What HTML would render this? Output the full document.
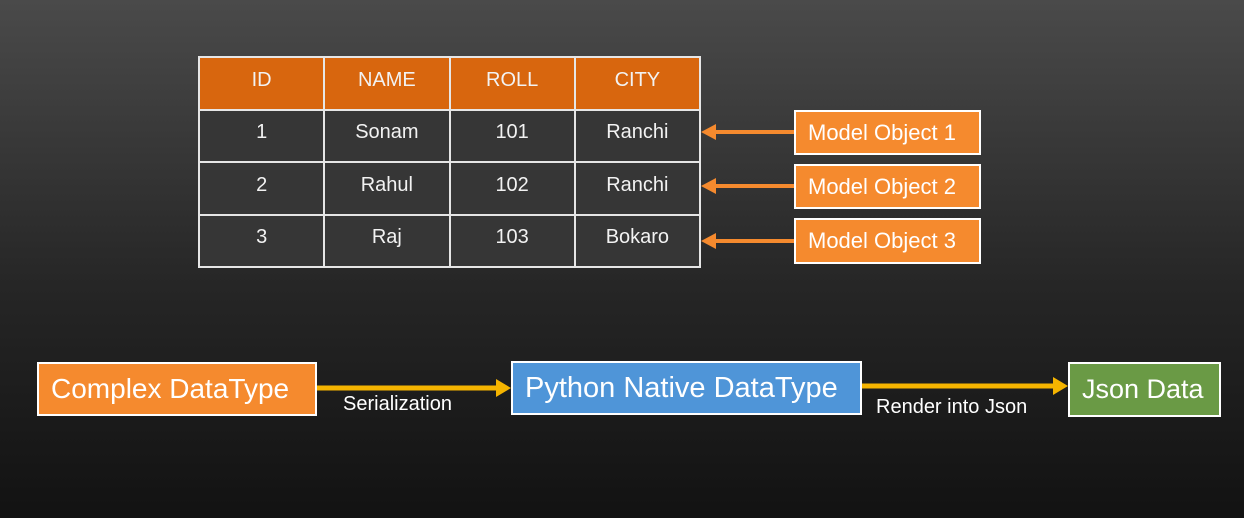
<!DOCTYPE html>
<html><head><style>
body{margin:0;width:1244px;height:518px;overflow:hidden;background:linear-gradient(#4a4a4a,#262626 55%,#121212);font-family:"Liberation Sans",sans-serif;color:#fff;position:relative}
.a{position:absolute;box-sizing:border-box}
table{position:absolute;left:198px;top:56px;width:503px;height:212px;border-collapse:collapse;table-layout:fixed}
td{border:2px solid #e6e6e6;text-align:center;font-size:20px;color:#f2f2f2;background:#363636;padding:0 0 6px 0}
tr.h td{background:#d8660e}
.m{border:2px solid #fff;background:#f58a2e;font-size:22px;display:flex;align-items:center;padding-left:12px}
.b{border:2px solid #fff;display:flex;align-items:center;padding-left:12px}
</style></head><body>
<table>
<tr class="h"><td>ID</td><td>NAME</td><td>ROLL</td><td>CITY</td></tr>
<tr><td>1</td><td>Sonam</td><td>101</td><td>Ranchi</td></tr>
<tr><td>2</td><td>Rahul</td><td>102</td><td>Ranchi</td></tr>
<tr><td>3</td><td>Raj</td><td>103</td><td>Bokaro</td></tr>
</table>
<div class="a m" style="left:794px;top:110px;width:187px;height:45px">Model Object 1</div>
<div class="a m" style="left:794px;top:164px;width:187px;height:45px">Model Object 2</div>
<div class="a m" style="left:794px;top:218px;width:187px;height:46px">Model Object 3</div>
<svg class="a" style="left:0;top:0" width="1244" height="518">
<g stroke="#f58a2e" stroke-width="4" fill="#f58a2e">
<line x1="794" y1="132" x2="712" y2="132"/><polygon points="701,132 716,124 716,140" stroke="none"/>
<line x1="794" y1="186" x2="712" y2="186"/><polygon points="701,186 716,178 716,194" stroke="none"/>
<line x1="794" y1="241" x2="712" y2="241"/><polygon points="701,241 716,233 716,249" stroke="none"/>
</g>
<g stroke="#f5b400" stroke-width="5" fill="#f5b400">
<line x1="317" y1="388" x2="498" y2="388"/><polygon points="511,388 496,379 496,397" stroke="none"/>
<line x1="862" y1="386" x2="1055" y2="386"/><polygon points="1068,386 1053,377 1053,395" stroke="none"/>
</g>
</svg>
<div class="a b" style="left:37px;top:362px;width:280px;height:54px;background:#f58a2e;font-size:28px">Complex DataType</div>
<div class="a b" style="left:511px;top:361px;width:351px;height:54px;background:#4f95d8;font-size:29px">Python Native DataType</div>
<div class="a b" style="left:1068px;top:362px;width:153px;height:55px;background:#6a9a45;font-size:27px">Json Data</div>
<div class="a" style="left:343px;top:393px;font-size:20px">Serialization</div>
<div class="a" style="left:876px;top:396px;font-size:20px">Render into Json</div>
</body></html>
